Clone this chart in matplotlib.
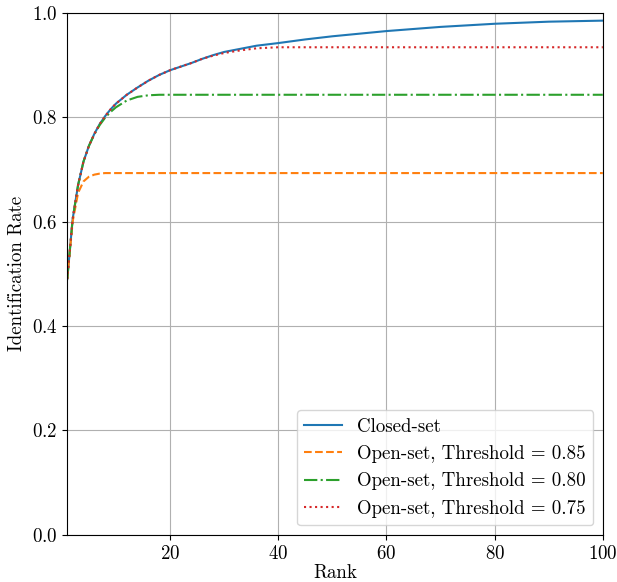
import matplotlib
matplotlib.use("Agg")
import matplotlib.pyplot as plt

plt.rcParams['font.family'] = 'cmr10'
plt.rcParams['mathtext.fontset'] = 'cm'
plt.rcParams['axes.formatter.use_mathtext'] = True
plt.rcParams['font.size'] = 13.6

# ranks and identification rates
ranks = [1, 2, 3, 4, 5, 6, 7, 8, 9, 10, 12, 14, 16, 18, 20, 22, 24, 26, 28, 30,
         33, 36, 40, 45, 50, 55, 60, 65, 70, 75, 80, 85, 90, 95, 100]
closed_set = [0.490, 0.605, 0.670, 0.715, 0.745, 0.768, 0.787, 0.802, 0.815, 0.826,
              0.843, 0.857, 0.870, 0.881, 0.890, 0.897, 0.904, 0.912, 0.919, 0.925,
              0.931, 0.937, 0.942, 0.949, 0.955, 0.960, 0.965, 0.969, 0.973, 0.976,
              0.979, 0.981, 0.983, 0.984, 0.985]
open_085 = [0.490, 0.600, 0.655, 0.677, 0.686, 0.690, 0.692, 0.693, 0.693, 0.693,
            0.693, 0.693, 0.693, 0.693, 0.693, 0.693, 0.693, 0.693, 0.693, 0.693,
            0.693, 0.693, 0.693, 0.693, 0.693, 0.693, 0.693, 0.693, 0.693, 0.693,
            0.693, 0.693, 0.693, 0.693, 0.693]
open_080 = [0.490, 0.605, 0.670, 0.715, 0.745, 0.767, 0.785, 0.799, 0.810, 0.819,
            0.832, 0.839, 0.842, 0.843, 0.843, 0.843, 0.843, 0.843, 0.843, 0.843,
            0.843, 0.843, 0.843, 0.843, 0.843, 0.843, 0.843, 0.843, 0.843, 0.843,
            0.843, 0.843, 0.843, 0.843, 0.843]
open_075 = [0.490, 0.605, 0.670, 0.715, 0.745, 0.768, 0.787, 0.802, 0.815, 0.826,
            0.843, 0.857, 0.870, 0.881, 0.890, 0.897, 0.904, 0.912, 0.918, 0.923,
            0.928, 0.932, 0.934, 0.934, 0.934, 0.934, 0.934, 0.934, 0.934, 0.934,
            0.934, 0.934, 0.934, 0.934, 0.934]

fig, ax = plt.subplots(figsize=(6.17, 5.82), dpi=100)
fig.subplots_adjust(left=0.109, right=0.977, top=0.978, bottom=0.081)

ax.plot(ranks, closed_set, '-', color='tab:blue', label='Closed-set')
ax.plot(ranks, open_085, '--', color='tab:orange', label='Open-set, Threshold = 0.85')
ax.plot(ranks, open_080, '-.', color='tab:green', label='Open-set, Threshold = 0.80')
ax.plot(ranks, open_075, ':', color='tab:red', label='Open-set, Threshold = 0.75')

ax.set_xlim(1, 100)
ax.set_ylim(0, 1)
ax.set_xticks([20, 40, 60, 80, 100])
ax.set_yticks([0, 0.2, 0.4, 0.6, 0.8, 1.0])
ax.grid(True)
ax.set_xlabel('Rank', labelpad=1)
ax.set_ylabel('Identification Rate')
ax.legend(loc='lower right')

fig.savefig('out.png', dpi=100)
